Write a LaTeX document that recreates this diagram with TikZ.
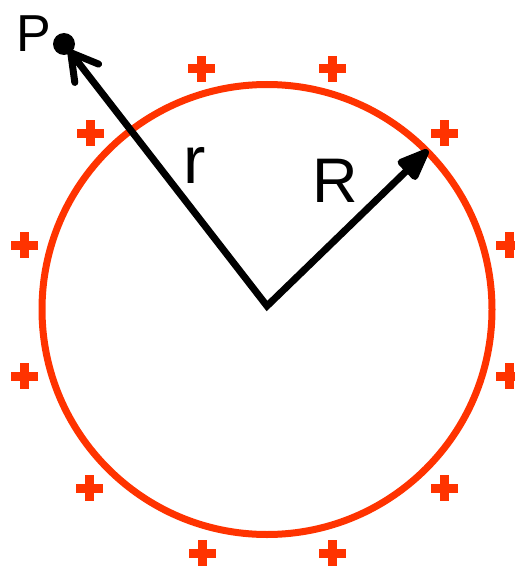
\documentclass[tikz,border=0pt]{standalone}
\usepackage{fontspec}
\setmainfont{Liberation Sans}
\usetikzlibrary{arrows.meta}
\definecolor{charge}{RGB}{255,51,0}
\tikzset{
  shell/.style={draw=charge, line width=7pt},
  vec/.style={draw=black, line width=7pt, line join=miter, line cap=butt},
  lbl/.style={inner sep=0pt, anchor=base, text=black},
}
\begin{document}
\begin{tikzpicture}[x=1pt,y=-1pt]
\useasboundingbox (0,0) rectangle (514,567);
% charged sphere
\node[shell, circle, minimum size=450pt, inner sep=0pt] (S) at (267,309.5) {};
% plus signs
\foreach \px/\py in {201/69, 332/69, 90/133, 444/133, 24/245, 24/376, 509/245, 509/376, 89/488, 444/488, 202/553, 332/553}{
  \fill[charge] (\px-13.5,\py-4.5) rectangle ++(27,9);
  \fill[charge] (\px-4.5,\py-13) rectangle ++(9,26);
}
% points
\coordinate (O) at (267,306);
\coordinate (P) at (64,44);
\coordinate (E) at (428,150);
\fill[black] (P) circle (11pt);
\draw[vec, {Straight Barb[length=26pt,width=30pt,line cap=round]}-{Triangle[length=38pt,width=28pt,round]}, shorten <=4pt] (P) -- (O) -- (E);
% labels
\node[lbl, font=\fontsize{52}{52}\selectfont] (lP) at (34,52) {P};
\node[lbl, font=\fontsize{67}{67}\selectfont] (lr) at (195,183) {r};
\node[lbl, font=\fontsize{63}{63}\selectfont] (lR) at (335,202) {R};
\end{tikzpicture}
\end{document}
